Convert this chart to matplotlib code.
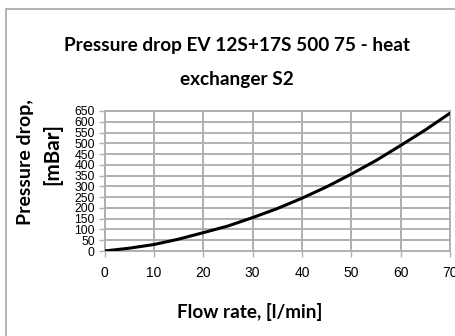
import matplotlib
matplotlib.use('Agg')
import matplotlib.pyplot as plt
from matplotlib.patches import Rectangle

# Values
flow = [0, 5, 10, 15, 20, 25, 30, 35, 40, 45, 50, 55, 60, 65, 70]
pressure = [0, 13, 30, 55, 85, 116, 155, 197, 245, 298, 357, 420, 490, 562, 640]
x_ticks = [0, 10, 20, 30, 40, 50, 60, 70]
y_ticks = list(range(0, 651, 50))

title_1 = 'Pressure drop EV 12S+17S 500 75 - heat'
title_2 = 'exchanger S2'
ylabel_1 = 'Pressure drop,'
ylabel_2 = '[mBar]'
xlabel = 'Flow rate, [l/min]'

W, H = 455, 336
grid_col = '#b0b0b0'
label_font = ['Lato', 'DejaVu Sans']
tick_font = ['Liberation Sans Narrow', 'Liberation Sans', 'DejaVu Sans']

fig = plt.figure(figsize=(W / 100, H / 100), dpi=100)
renderer = fig.canvas.get_renderer()

# outer chart border (cut off at right and bottom like the reference)
fig.patches.append(Rectangle((6 / W, -0.2), 1.2, 1 - 9 / H + 0.2, transform=fig.transFigure,
                             fill=False, edgecolor='#a6a6a6', lw=1.2))

ax = fig.add_axes([104.5 / W, 1 - 251 / H, 345.5 / W, 140 / H])
ax.plot(flow, pressure, color='black', lw=2.2, solid_capstyle='round', zorder=3)

ax.set_xlim(0, 70)
ax.set_ylim(0, 650)
ax.set_xticks(x_ticks)
ax.set_yticks(y_ticks)
ax.set_xticklabels([str(v) for v in x_ticks], family=tick_font, fontsize=10)
ax.set_yticklabels([str(v) for v in y_ticks], family=tick_font, fontsize=8.8)
ax.tick_params(axis='x', direction='out', length=4, width=1, color=grid_col, pad=7)
ax.tick_params(axis='y', direction='out', length=4, width=1, color=grid_col, pad=3)
ax.grid(True, color=grid_col, lw=1.4)
ax.set_axisbelow(True)
for s in ax.spines.values():
    s.set_color(grid_col)
    s.set_linewidth(1.4)


def fit_text(x, y, s, target, rot=0):
    # place a bold label and scale its size so its length matches the reference
    t = fig.text(x / W, 1 - y / H, s, ha='center', va='center', rotation=rot,
                 fontsize=12, fontweight='bold', family=label_font)
    bb = t.get_window_extent(renderer)
    size = bb.height if rot else bb.width
    t.set_fontsize(12 * target / size)
    return t


t1 = fit_text(237, 45, title_1, 345)
fig.text(237 / W, 1 - 80 / H, title_2, ha='center', va='center', fontsize=t1.get_fontsize(),
         fontweight='bold', family=label_font)
fit_text(25, 162.5, ylabel_1, 125, rot=90)
fit_text(52, 154, ylabel_2, 62, rot=90)
fit_text(250, 312, xlabel, 145)

fig.savefig('out.png', dpi=100)
